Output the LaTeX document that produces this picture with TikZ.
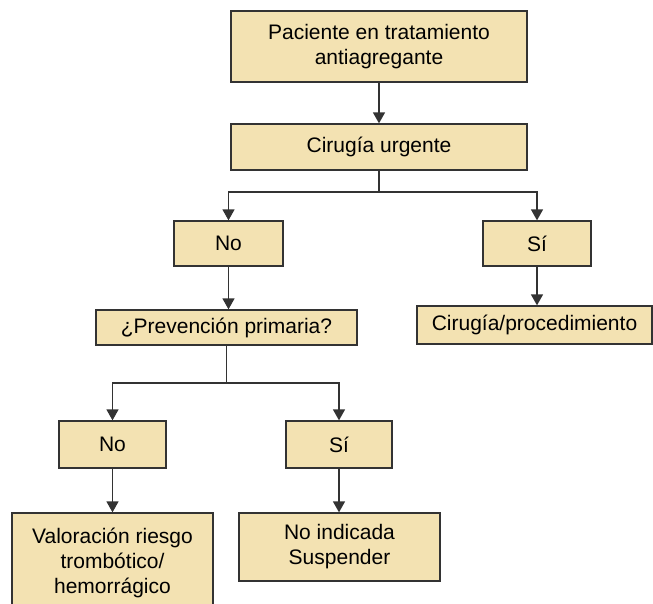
\documentclass[tikz,border=0pt]{standalone}
\usepackage{fontspec}
\setmainfont{Liberation Sans}
\usetikzlibrary{arrows.meta}
\definecolor{boxfill}{HTML}{F3E2B2}
\definecolor{edge}{HTML}{333333}
\begin{document}
\begin{tikzpicture}[x=1pt,y=-1pt,
  box/.style={draw=edge,line width=1.3pt,fill=boxfill,inner sep=0pt,align=center,
    font=\fontsize{21}{25}\selectfont},
  conn/.style={draw=edge,line width=1.4pt},
  arr/.style={conn,-{Triangle[length=11pt,width=12pt]}}]
\useasboundingbox (0,0) rectangle (653,603);
\newcommand{\bx}[6]{\node[box,minimum width=#4-#2,minimum height=#5-#3] (#1) at ({(#2+#4)/2},{(#3+#5)/2}) {#6};}
\bx{a}{231}{11}{527}{82}{Paciente en tratamiento\\antiagregante}
\bx{b}{231}{124}{527}{170}{Cirugía urgente}
\bx{no1}{174}{221}{283}{266}{No}
\bx{si1}{483}{221}{591}{266}{Sí}
\bx{prev}{96}{310}{357}{345}{¿Prevención primaria?}
\bx{cir}{417}{306}{652}{344}{Cirugía/procedimiento}
\bx{no2}{59}{421}{166}{468}{No}
\bx{si2}{286}{421}{392}{468}{Sí}
\bx{val}{12}{513}{213}{612}{Valoración riesgo\\trombótico/\\hemorrágico}
\bx{ind}{239}{513}{440}{581}{No indicada\\Suspender}
\coordinate (s1) at (379,192);
\coordinate (s2) at (226.5,383);
\draw[arr] (a) -- (b);
\draw[conn] (b) -- (s1);
\draw[arr] (s1) -| (no1);
\draw[arr] (s1) -| (si1);
\draw[arr] (no1) -- (no1 |- prev.north);
\draw[arr] (si1) -- (si1 |- cir.north);
\draw[conn] (prev) -- (s2);
\draw[arr] (s2) -| (no2);
\draw[arr] (s2) -| (si2);
\draw[arr] (no2) -- (no2 |- val.north);
\draw[arr] (si2) -- (si2 |- ind.north);
\end{tikzpicture}
\end{document}
